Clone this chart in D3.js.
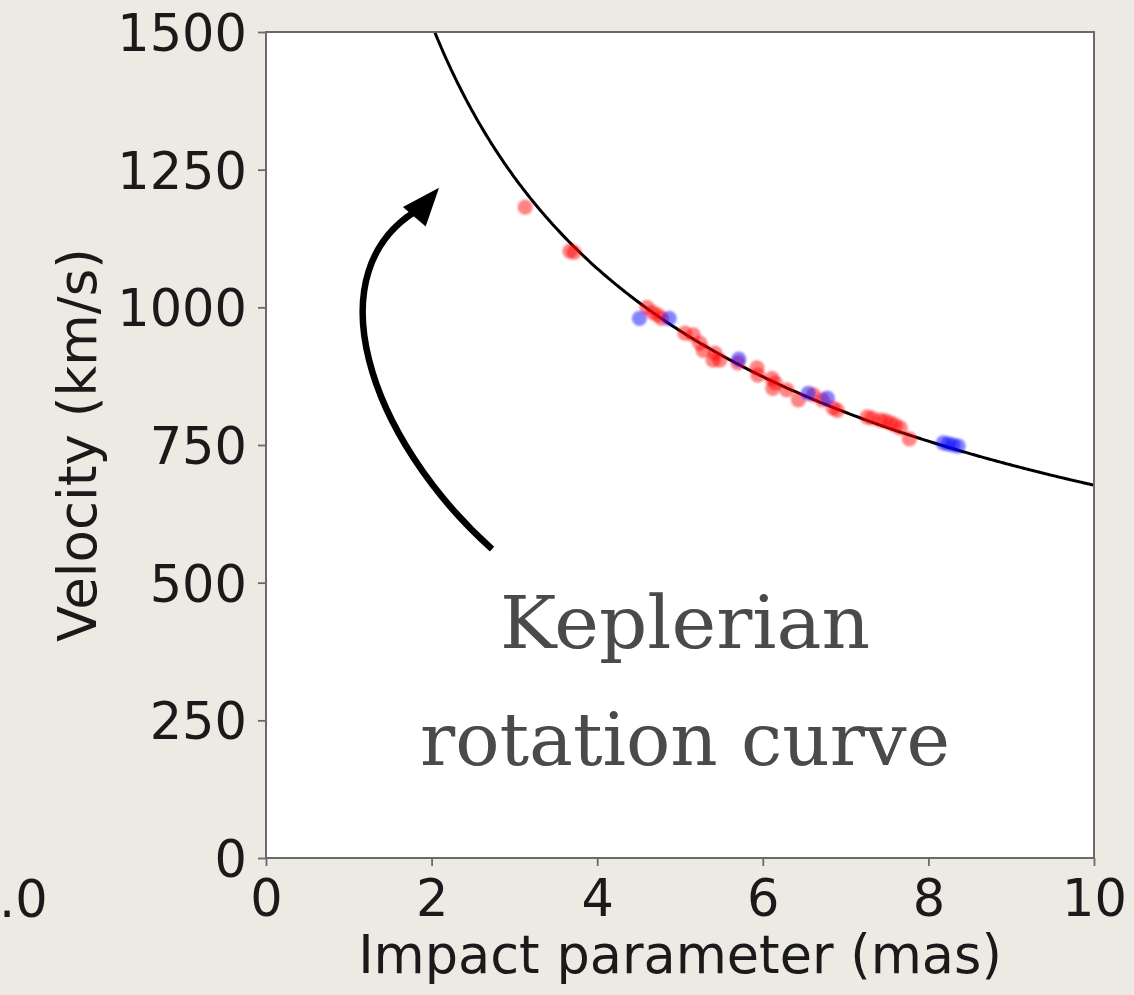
<!DOCTYPE html>
<html>
<head>
<meta charset="utf-8">
<script src="https://cdn.jsdelivr.net/npm/d3@7"></script>
<style>
  html, body { margin: 0; padding: 0; background: #edeae4; }
  svg { display: block; }
</style>
</head>
<body>
<svg id="chart" width="1134" height="995"></svg>
<script>
// ---- data ----
const xTicks = [0, 2, 4, 6, 8, 10];
const yTicks = [0, 250, 500, 750, 1000, 1250, 1500];
const xLabel = "Impact parameter (mas)";
const yLabel = "Velocity (km/s)";
const keplerA = 2141; // v = A / sqrt(b)

const redX = [3.13, 3.67, 3.72, 4.60, 4.67, 4.73, 4.78, 5.06, 5.16, 5.24, 5.28, 5.40, 5.42, 5.48,
              5.70, 5.93, 5.94, 6.11, 6.15, 6.12, 6.29, 6.43, 6.61, 6.72, 6.85, 6.90,
              7.26, 7.32, 7.42, 7.48, 7.54, 7.60, 7.66, 7.77];
const redY = [1182, 1102, 1100, 1000, 991, 986, 980, 953, 950, 935, 922, 904, 917, 904,
              899, 890, 877, 871, 863, 853, 850, 832, 841, 832, 817, 813,
              801, 799, 795, 794, 790, 786, 781, 761];
const blueX = [4.51, 4.87, 5.71, 6.55, 6.78, 8.18, 8.24, 8.30, 8.36];
const blueY = [980, 980, 906, 844, 835, 754, 752, 750, 748];

// annotation arrow in data units
const arrowPath = [[2.73, 561], [1.25, 760], [0.53, 1070], [1.89, 1182]];
const arrowTip = [2.09, 1217];
const noteLines = ["Keplerian", "rotation curve"];

// ---- layout ----
const svg = d3.select("#chart");
const W = 1134, H = 995;
const m = { left: 266, top: 32, right: 1094, bottom: 858 };

const x = d3.scaleLinear().domain([0, 10]).range([m.left, m.right]);
const y = d3.scaleLinear().domain([0, 1500]).range([m.bottom, m.top]);

svg.append("rect").attr("width", W).attr("height", H).attr("fill", "#edeae4");

// stray tick label of a neighbouring panel
svg.append("text").attr("x", -1).attr("y", 917).attr("text-anchor", "start")
  .attr("font-family", "DejaVu Sans").attr("font-size", 51).attr("fill", "#1a1a1a").text(".0");

svg.append("rect").attr("x", m.left).attr("y", m.top)
  .attr("width", m.right - m.left).attr("height", m.bottom - m.top).attr("fill", "#ffffff");

const defs = svg.append("defs");
defs.append("clipPath").attr("id", "clip").append("rect")
  .attr("x", m.left).attr("y", m.top).attr("width", m.right - m.left).attr("height", m.bottom - m.top);
defs.append("filter").attr("id", "soft").append("feGaussianBlur").attr("stdDeviation", 0.9);

// curve
const curveData = d3.range(1.5, 10.001, 0.02).map(b => [b, keplerA / Math.sqrt(b)]);
svg.append("path").datum(curveData)
  .attr("clip-path", "url(#clip)")
  .attr("d", d3.line().x(d => x(d[0])).y(d => y(d[1])))
  .attr("fill", "none").attr("stroke", "#000").attr("stroke-width", 3);

// points
const pts = svg.append("g").attr("filter", "url(#soft)");
pts.selectAll("circle.r").data(d3.zip(redX, redY)).join("circle").attr("class", "r")
  .attr("cx", d => x(d[0])).attr("cy", d => y(d[1])).attr("r", 7.6)
  .attr("fill", "#ff0000").attr("fill-opacity", 0.48);
pts.selectAll("circle.b").data(d3.zip(blueX, blueY)).join("circle").attr("class", "b")
  .attr("cx", d => x(d[0])).attr("cy", d => y(d[1])).attr("r", 7.6)
  .attr("fill", "#0000ff").attr("fill-opacity", 0.48);

// axes
const axisColor = "#6a6a6a";
const font = "DejaVu Sans";
const xAxis = svg.append("g").attr("transform", `translate(0,${m.bottom})`)
  .call(d3.axisBottom(x).tickValues(xTicks).tickSize(8).tickPadding(12).tickFormat(d3.format("d")));
const yAxis = svg.append("g").attr("transform", `translate(${m.left},0)`)
  .call(d3.axisLeft(y).tickValues(yTicks).tickSize(8).tickPadding(11).tickFormat(d3.format("d")));
[xAxis, yAxis].forEach(g => {
  g.select(".domain").remove();
  g.selectAll(".tick line").attr("stroke", axisColor).attr("stroke-width", 1.8);
  g.selectAll(".tick text").attr("font-family", font).attr("font-size", 51).attr("fill", "#1a1a1a");
});
xAxis.selectAll(".tick text").attr("dy", "0.74em");
yAxis.selectAll(".tick text").attr("dy", "0.36em");

// frame
svg.append("rect").attr("x", m.left).attr("y", m.top)
  .attr("width", m.right - m.left).attr("height", m.bottom - m.top)
  .attr("fill", "none").attr("stroke", axisColor).attr("stroke-width", 2);

// axis labels
svg.append("text").attr("x", 680).attr("y", 973)
  .attr("text-anchor", "middle").attr("font-family", font).attr("font-size", 52.5).attr("fill", "#1a1a1a")
  .text(xLabel);
svg.append("text").attr("transform", `translate(96,${445}) rotate(-90)`)
  .attr("text-anchor", "middle").attr("font-family", font).attr("font-size", 53).attr("fill", "#1a1a1a")
  .text(yLabel);

// annotation arrow
const p = arrowPath.map(d => [x(d[0]), y(d[1])]);
svg.append("path")
  .attr("d", `M${p[0][0]},${p[0][1]} C${p[1][0]},${p[1][1]} ${p[2][0]},${p[2][1]} ${p[3][0]},${p[3][1]}`)
  .attr("fill", "none").attr("stroke", "#000").attr("stroke-width", 6.5);
const tip = [x(arrowTip[0]), y(arrowTip[1])];
const dirAng = Math.atan2(tip[1] - p[3][1], tip[0] - p[3][0]);
const hl = 38, hw = 15;
const bx = tip[0] - hl * Math.cos(dirAng), by = tip[1] - hl * Math.sin(dirAng);
const nx = -Math.sin(dirAng), ny = Math.cos(dirAng);
svg.append("path")
  .attr("d", `M${tip[0]},${tip[1]} L${bx + hw * nx},${by + hw * ny} L${bx - hw * nx},${by - hw * ny} Z`)
  .attr("fill", "#000");

// annotation text
const noteY = [648, 765];
const noteW = [370, 530];
noteLines.forEach((t, i) => {
  svg.append("text").attr("x", 685).attr("y", noteY[i]).attr("text-anchor", "middle")
    .attr("font-family", "DejaVu Serif").attr("font-size", 72).attr("fill", "#4a4a4a")
    .attr("textLength", noteW[i]).attr("lengthAdjust", "spacingAndGlyphs")
    .text(t);
});
</script>
</body>
</html>
